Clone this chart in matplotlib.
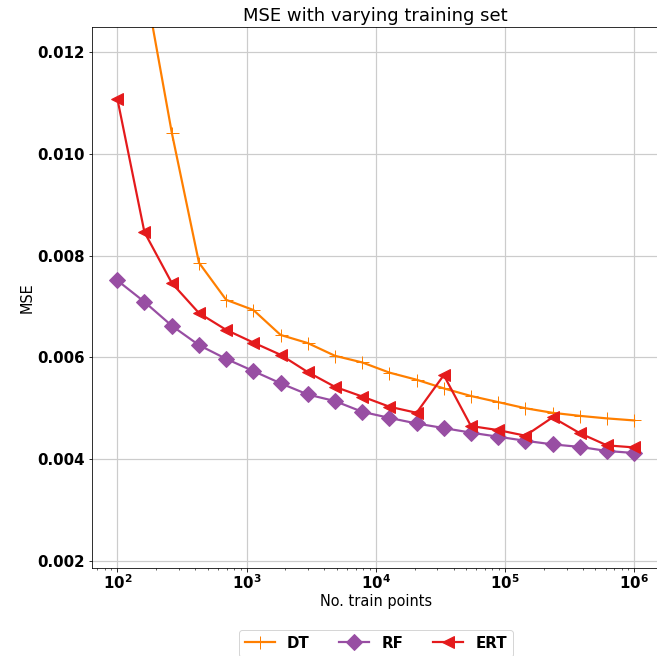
import numpy as np
import matplotlib
matplotlib.use("Agg")
import matplotlib.pyplot as plt

train_points = [100, 162, 264, 428, 695, 1129, 1833, 2976, 4833, 7848,
                12743, 20691, 33598, 54556, 88587, 143845, 233572, 379269,
                615848, 1000000]

mse_dt = [0.0175, 0.0134, 0.01041, 0.00786, 0.00713, 0.00693, 0.00644,
          0.00628, 0.00603, 0.00590, 0.00570, 0.00556, 0.00539, 0.00524,
          0.00512, 0.00500, 0.00491, 0.00485, 0.00480, 0.00476]
mse_rf = [0.00751, 0.00709, 0.00662, 0.00624, 0.00597, 0.00573, 0.00549,
          0.00527, 0.00514, 0.00493, 0.00481, 0.00470, 0.00461, 0.00452,
          0.00444, 0.00436, 0.00429, 0.00424, 0.00416, 0.00412]
mse_ert = [0.01108, 0.00846, 0.00746, 0.00687, 0.00654, 0.00629, 0.00605,
           0.00571, 0.00542, 0.00523, 0.00503, 0.00491, 0.00565, 0.00465,
           0.00457, 0.00446, 0.00482, 0.00451, 0.00427, 0.00423]

series_labels = ["DT", "RF", "ERT"]
yticks = [0.002, 0.004, 0.006, 0.008, 0.010, 0.012]

DPI = 72
fig = plt.figure(figsize=(657 / DPI, 656 / DPI), dpi=DPI)
ax = fig.add_axes([0.1393, 0.1341, 0.8653, 0.8247])

ax.plot(train_points, mse_dt, color="#ff7f00", marker="+", markersize=13,
        linewidth=2.2, label=series_labels[0])
ax.plot(train_points, mse_rf, color="#984ea3", marker="D", markersize=11,
        linewidth=2.2, label=series_labels[1])
ax.plot(train_points, mse_ert, color="#e41a1c", marker="<", markersize=12,
        linewidth=2.2, label=series_labels[2])

ax.set_xscale("log")
ax.set_xlim(10**1.8, 10**6.2)
ax.set_ylim(0.00186, 0.01249)
ax.set_yticks(yticks)
ax.set_yticklabels([f"{v:.3f}" for v in yticks])
ax.grid(True, which="major", color="#cccccc", linewidth=1.2)
ax.set_axisbelow(True)

for lab in ax.get_xticklabels() + ax.get_yticklabels():
    lab.set_fontweight("bold")
ax.tick_params(axis="both", which="major", labelsize=15)
ax.tick_params(axis="x", which="major", pad=2)

ax.set_title("MSE with varying training set", fontsize=18)
ax.set_xlabel("No. train points", fontsize=14.5, labelpad=2)
ax.set_ylabel("MSE", fontsize=14.5, labelpad=2)

leg = ax.legend(loc="upper center", bbox_to_anchor=(0.5, -0.100), ncol=3,
                prop={"weight": "bold", "size": 15}, frameon=True)

fig.savefig("out.png", dpi=DPI)
